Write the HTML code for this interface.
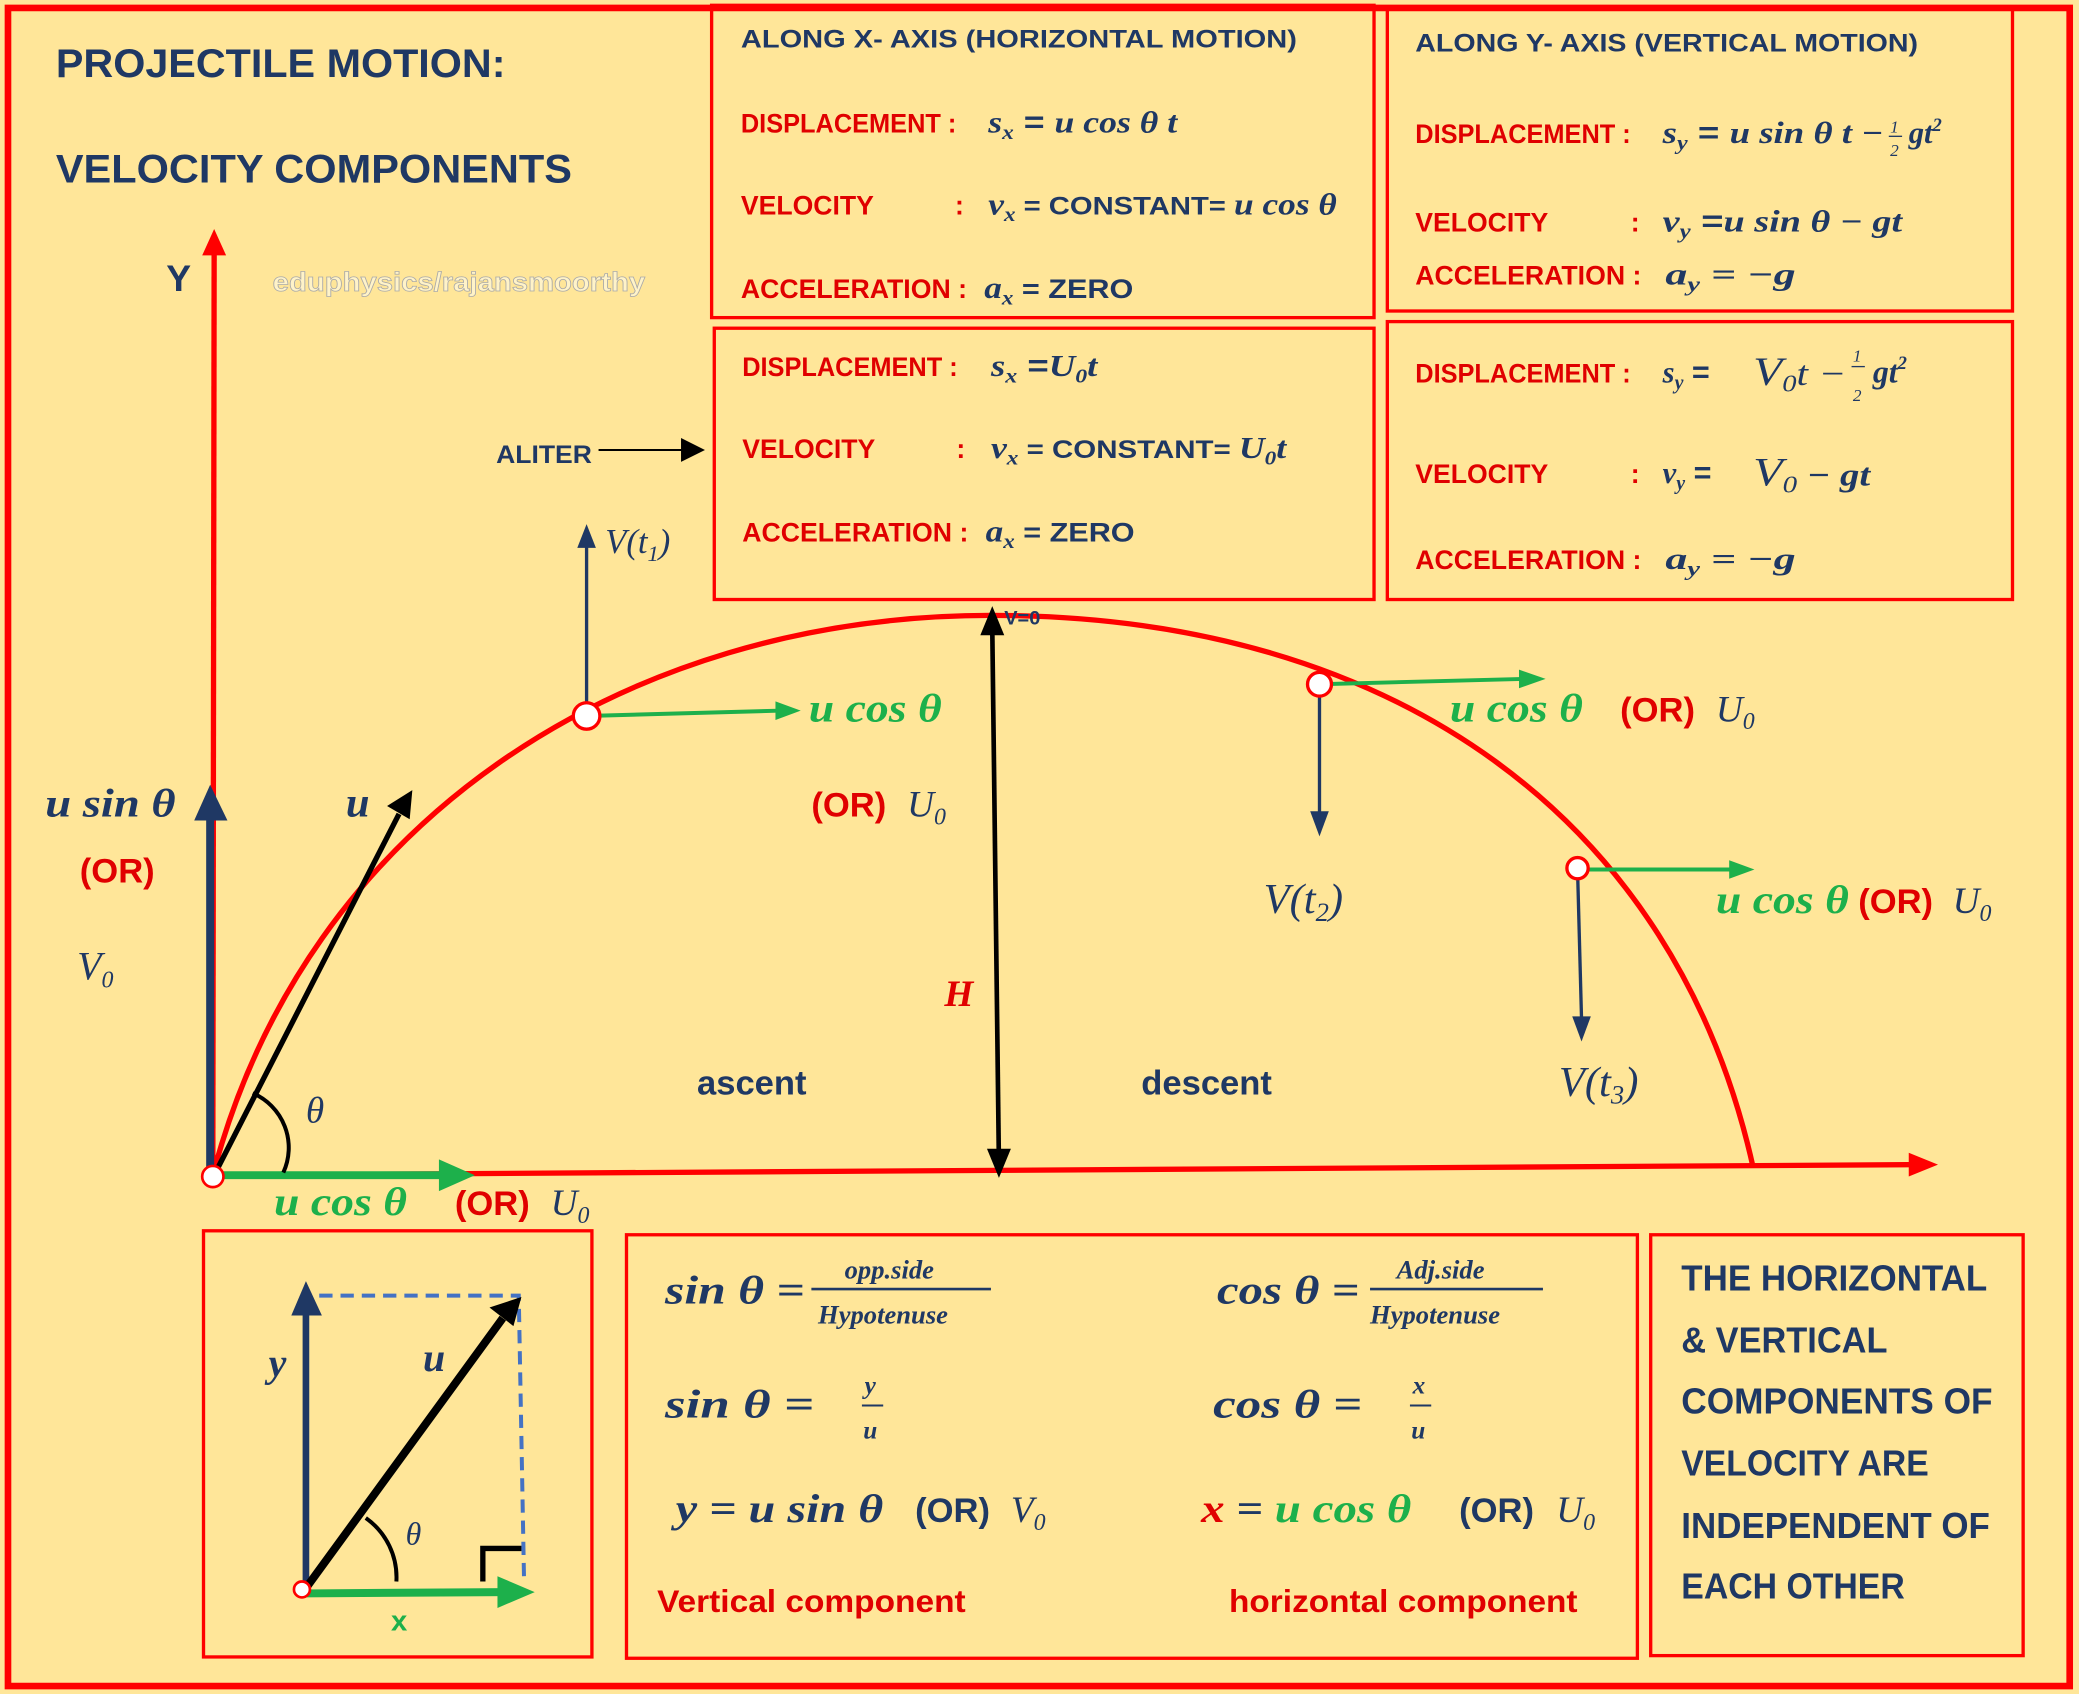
<!DOCTYPE html>
<html><head><meta charset="utf-8"><style>
html,body{margin:0;padding:0;background:#FFE699;}
svg{display:block;}
.t{font-family:"Liberation Sans",sans-serif;font-weight:bold;}
.n{fill:#1F3864;}
.r{fill:#E00000;}
.g{fill:#1DB04B;}
.m{font-family:"Liberation Serif",serif;font-style:italic;font-weight:bold;}
.mi{font-family:"Liberation Serif",serif;font-style:italic;}
</style></head><body>
<svg width="2079" height="1694" viewBox="0 0 1563 1280" preserveAspectRatio="none" xmlns="http://www.w3.org/2000/svg">
<rect x="0" y="0" width="1563" height="1280" fill="#FFE699"/>
<rect x="6" y="6" width="1550" height="1268" fill="none" stroke="#F00" stroke-width="5"/>
<g fill="none" stroke="#F00" stroke-width="2.5">
<rect x="535" y="4" width="498" height="236"/>
<rect x="1043" y="6" width="470" height="229"/>
<rect x="537" y="248" width="496" height="205"/>
<rect x="1043" y="243" width="470" height="210"/>
<rect x="153" y="930" width="292" height="322"/>
<rect x="471" y="933" width="760" height="320"/>
<rect x="1241" y="933" width="280" height="318"/>
</g>
<text x="42" y="58" class="t n" font-size="30" textLength="338" lengthAdjust="spacingAndGlyphs">PROJECTILE MOTION:</text>
<text x="42" y="138" class="t n" font-size="30" textLength="388" lengthAdjust="spacingAndGlyphs">VELOCITY COMPONENTS</text>
<text x="205" y="220" class="t" font-size="20" fill="#FFF3C8" stroke="#aaa" stroke-width="0.6" textLength="280" lengthAdjust="spacingAndGlyphs">eduphysics/rajansmoorthy</text>
<text x="125" y="220" class="t n" font-size="28">Y</text>

<!-- box 1 -->
<text x="557" y="36" class="t n" font-size="19" textLength="418" lengthAdjust="spacingAndGlyphs">ALONG X- AXIS  (HORIZONTAL MOTION)</text>
<text x="557" y="100" class="t r" font-size="20" textLength="162" lengthAdjust="spacingAndGlyphs">DISPLACEMENT :</text>
<text x="743" y="100" class="m n" font-size="23" textLength="142" lengthAdjust="spacingAndGlyphs">s<tspan font-size="15" dy="5">x</tspan><tspan dy="-5" font-style="normal" font-family="Liberation Sans"> = </tspan>u cos θ t</text>
<text x="557" y="162" class="t r" font-size="20" textLength="100" lengthAdjust="spacingAndGlyphs">VELOCITY</text>
<text x="718" y="162" class="t r" font-size="20">:</text>
<text x="743" y="162" class="m n" font-size="23" textLength="262" lengthAdjust="spacingAndGlyphs">v<tspan font-size="15" dy="5">x</tspan><tspan dy="-5" font-style="normal" font-family="Liberation Sans" font-size="19"> = CONSTANT= </tspan>u cos θ</text>
<text x="557" y="225" class="t r" font-size="20" textLength="170" lengthAdjust="spacingAndGlyphs">ACCELERATION :</text>
<text x="740" y="225" class="m n" font-size="23" textLength="112" lengthAdjust="spacingAndGlyphs">a<tspan font-size="15" dy="5">x</tspan><tspan dy="-5" font-style="normal" font-family="Liberation Sans" font-size="20"> = ZERO</tspan></text>

<!-- box 2 -->
<text x="1064" y="39" class="t n" font-size="19" textLength="378" lengthAdjust="spacingAndGlyphs">ALONG Y- AXIS  (VERTICAL MOTION)</text>
<text x="1064" y="108" class="t r" font-size="20" textLength="162" lengthAdjust="spacingAndGlyphs">DISPLACEMENT :</text>
<text x="1250" y="108" class="m n" font-size="23" textLength="166" lengthAdjust="spacingAndGlyphs">s<tspan font-size="15" dy="5">y</tspan><tspan dy="-5" font-style="normal" font-family="Liberation Sans"> = </tspan>u sin θ t −</text>
<text x="1421" y="100" class="mi n" font-size="13">1</text><line x1="1420" y1="103" x2="1430" y2="103" stroke="#1F3864" stroke-width="1"/><text x="1421" y="118" class="mi n" font-size="13">2</text>
<text x="1435" y="108" class="m n" font-size="23">gt<tspan font-size="14" dy="-9">2</tspan></text>
<text x="1064" y="175" class="t r" font-size="20" textLength="100" lengthAdjust="spacingAndGlyphs">VELOCITY</text>
<text x="1226" y="175" class="t r" font-size="20">:</text>
<text x="1250" y="175" class="m n" font-size="23" textLength="180" lengthAdjust="spacingAndGlyphs">v<tspan font-size="15" dy="5">y</tspan><tspan dy="-5" font-style="normal" font-family="Liberation Sans"> =</tspan>u sin θ − gt</text>
<text x="1064" y="215" class="t r" font-size="20" textLength="170" lengthAdjust="spacingAndGlyphs">ACCELERATION :</text>
<text x="1252" y="215" class="m n" font-size="23" textLength="98" lengthAdjust="spacingAndGlyphs">a<tspan font-size="15" dy="5">y</tspan><tspan dy="-5">  =  −g</tspan></text>

<!-- box 3 -->
<text x="558" y="284" class="t r" font-size="20" textLength="162" lengthAdjust="spacingAndGlyphs">DISPLACEMENT :</text>
<text x="745" y="284" class="m n" font-size="23" textLength="80" lengthAdjust="spacingAndGlyphs">s<tspan font-size="15" dy="5">x</tspan><tspan dy="-5" font-style="normal" font-family="Liberation Sans"> =</tspan>U<tspan font-size="15" dy="5">0</tspan><tspan dy="-5">t</tspan></text>
<text x="558" y="346" class="t r" font-size="20" textLength="100" lengthAdjust="spacingAndGlyphs">VELOCITY</text>
<text x="719" y="346" class="t r" font-size="20">:</text>
<text x="745" y="346" class="m n" font-size="23" textLength="222" lengthAdjust="spacingAndGlyphs">v<tspan font-size="15" dy="5">x</tspan><tspan dy="-5" font-style="normal" font-family="Liberation Sans" font-size="19"> = CONSTANT= </tspan>U<tspan font-size="15" dy="5">0</tspan><tspan dy="-5">t</tspan></text>
<text x="558" y="409" class="t r" font-size="20" textLength="170" lengthAdjust="spacingAndGlyphs">ACCELERATION :</text>
<text x="741" y="409" class="m n" font-size="23" textLength="112" lengthAdjust="spacingAndGlyphs">a<tspan font-size="15" dy="5">x</tspan><tspan dy="-5" font-style="normal" font-family="Liberation Sans" font-size="20"> = ZERO</tspan></text>

<!-- box 4 -->
<text x="1064" y="289" class="t r" font-size="20" textLength="162" lengthAdjust="spacingAndGlyphs">DISPLACEMENT :</text>
<text x="1250" y="289" class="m n" font-size="23">s<tspan font-size="15" dy="5">y</tspan><tspan dy="-5" font-style="normal" font-family="Liberation Sans"> =</tspan></text>
<text x="1318" y="291" class="mi n" font-size="30" textLength="70" lengthAdjust="spacingAndGlyphs">V<tspan font-size="18" dy="5">0</tspan><tspan dy="-5" font-size="26">t −</tspan></text>
<text x="1393" y="273" class="mi n" font-size="13">1</text><line x1="1392" y1="277" x2="1402" y2="277" stroke="#1F3864" stroke-width="1"/><text x="1393" y="303" class="mi n" font-size="13">2</text>
<text x="1408" y="289" class="m n" font-size="24">gt<tspan font-size="14" dy="-10">2</tspan></text>
<text x="1064" y="365" class="t r" font-size="20" textLength="100" lengthAdjust="spacingAndGlyphs">VELOCITY</text>
<text x="1226" y="365" class="t r" font-size="20">:</text>
<text x="1250" y="365" class="m n" font-size="23">v<tspan font-size="15" dy="5">y</tspan><tspan dy="-5" font-style="normal" font-family="Liberation Sans"> =</tspan></text>
<text x="1318" y="367" class="mi n" font-size="30" textLength="88" lengthAdjust="spacingAndGlyphs">V<tspan font-size="18" dy="5">0</tspan><tspan dy="-5" font-size="24" font-weight="bold"> − gt</tspan></text>
<text x="1064" y="430" class="t r" font-size="20" textLength="170" lengthAdjust="spacingAndGlyphs">ACCELERATION :</text>
<text x="1252" y="430" class="m n" font-size="23" textLength="98" lengthAdjust="spacingAndGlyphs">a<tspan font-size="15" dy="5">y</tspan><tspan dy="-5">  =  −g</tspan></text>

<!-- ALITER -->
<text x="373" y="350" class="t n" font-size="19" textLength="72" lengthAdjust="spacingAndGlyphs">ALITER</text>
<line x1="450" y1="340" x2="515" y2="340" stroke="#000" stroke-width="1.5"/>
<path d="M512,331 L530,340 L512,349z" fill="#000"/>

<!-- axes -->
<line x1="160" y1="888" x2="161" y2="190" stroke="#F00" stroke-width="4"/>
<path d="M152,193 L161,173 L170,193z" fill="#F00"/>
<line x1="160" y1="888" x2="1440" y2="880" stroke="#F00" stroke-width="4"/>
<path d="M1435,871 L1457,880 L1435,889z" fill="#F00"/>
<!-- trajectory -->
<path d="M160,888 C230,620 470,465 745,465 C1050,465 1260,620 1318,882" fill="none" stroke="#F00" stroke-width="4"/>

<!-- origin vectors -->
<line x1="158" y1="885" x2="158" y2="615" stroke="#1F3864" stroke-width="6"/>
<path d="M146,620 L158,593 L171,620z" fill="#1F3864"/>
<line x1="162" y1="886" x2="300" y2="615" stroke="#000" stroke-width="4"/>
<path d="M291,609 L310,597 L308,619z" fill="#000"/>
<line x1="162" y1="888" x2="335" y2="888" stroke="#1DB04B" stroke-width="6"/>
<path d="M330,876 L357,888 L330,900z" fill="#1DB04B"/>
<path d="M190,826 A45,45 0 0 1 213,886" fill="none" stroke="#000" stroke-width="3"/>
<circle cx="160" cy="889" r="8" fill="#fff" stroke="#F00" stroke-width="2"/>

<!-- point 1 -->
<line x1="441" y1="540" x2="441" y2="410" stroke="#1F3864" stroke-width="2.5"/>
<path d="M434,414 L441,396 L448,414z" fill="#1F3864"/>
<line x1="441" y1="541" x2="585" y2="537" stroke="#1DB04B" stroke-width="3"/>
<path d="M583,530 L602,537 L583,544z" fill="#1DB04B"/>
<circle cx="441" cy="541" r="10" fill="#fff" stroke="#F00" stroke-width="2.5"/>
<!-- H -->
<line x1="746" y1="475" x2="751" y2="880" stroke="#000" stroke-width="3.5"/>
<path d="M737,480 L746,458 L755,480z" fill="#000"/>
<path d="M742,868 L751,890 L760,868z" fill="#000"/>
<text x="755" y="472" class="t n" font-size="15">V=0</text>
<!-- point 2 -->
<line x1="992" y1="517" x2="1145" y2="513" stroke="#1DB04B" stroke-width="3"/>
<path d="M1142,506 L1162,513 L1142,520z" fill="#1DB04B"/>
<line x1="992" y1="517" x2="992" y2="615" stroke="#1F3864" stroke-width="2.5"/>
<path d="M985,613 L992,632 L999,613z" fill="#1F3864"/>
<circle cx="992" cy="517" r="9" fill="#fff" stroke="#F00" stroke-width="2.5"/>
<!-- point 3 -->
<line x1="1186" y1="657" x2="1302" y2="657" stroke="#1DB04B" stroke-width="3"/>
<path d="M1300,650 L1319,657 L1300,664z" fill="#1DB04B"/>
<line x1="1186" y1="657" x2="1189" y2="770" stroke="#1F3864" stroke-width="2.5"/>
<path d="M1182,768 L1189,787 L1196,768z" fill="#1F3864"/>
<circle cx="1186" cy="656" r="8" fill="#fff" stroke="#F00" stroke-width="2.5"/>

<!-- labels in diagram -->
<text x="34" y="617" class="m n" font-size="30" textLength="98" lengthAdjust="spacingAndGlyphs">u sin θ</text>
<text x="60" y="667" class="t r" font-size="26">(OR)</text>
<text x="58" y="740" class="mi n" font-size="30">V<tspan font-size="18" dy="6">0</tspan></text>
<text x="260" y="617" class="m n" font-size="32">u</text>
<text x="230" y="848" class="mi n" font-size="28">θ</text>
<text x="206" y="918" class="m g" font-size="30" textLength="100" lengthAdjust="spacingAndGlyphs">u cos θ</text>
<text x="342" y="918" class="t r" font-size="26">(OR)</text>
<text x="414" y="918" class="mi n" font-size="28">U<tspan font-size="18" dy="6">0</tspan></text>
<text x="455" y="418" class="mi n" font-size="26">V(t<tspan font-size="17" dy="6">1</tspan><tspan dy="-6">)</tspan></text>
<text x="608" y="545" class="m g" font-size="30" textLength="100" lengthAdjust="spacingAndGlyphs">u cos θ</text>
<text x="610" y="617" class="t r" font-size="26">(OR)</text>
<text x="682" y="617" class="mi n" font-size="28">U<tspan font-size="18" dy="6">0</tspan></text>
<text x="710" y="760" class="m" font-size="28" fill="#E00000">H</text>
<text x="524" y="827" class="t n" font-size="26">ascent</text>
<text x="858" y="827" class="t n" font-size="26">descent</text>
<text x="1090" y="545" class="m g" font-size="30" textLength="100" lengthAdjust="spacingAndGlyphs">u cos θ</text>
<text x="1218" y="545" class="t r" font-size="26">(OR)</text>
<text x="1290" y="545" class="mi n" font-size="28">U<tspan font-size="18" dy="6">0</tspan></text>
<text x="950" y="690" class="mi n" font-size="32">V(t<tspan font-size="20" dy="6">2</tspan><tspan dy="-6">)</tspan></text>
<text x="1290" y="690" class="m g" font-size="30" textLength="100" lengthAdjust="spacingAndGlyphs">u cos θ</text>
<text x="1397" y="690" class="t r" font-size="26">(OR)</text>
<text x="1468" y="690" class="mi n" font-size="28">U<tspan font-size="18" dy="6">0</tspan></text>
<text x="1172" y="828" class="mi n" font-size="32">V(t<tspan font-size="20" dy="6">3</tspan><tspan dy="-6">)</tspan></text>

<!-- inset -->
<line x1="230" y1="1200" x2="230" y2="990" stroke="#1F3864" stroke-width="5"/>
<path d="M219,994 L230,968 L242,994z" fill="#1F3864"/>
<path d="M240,979 L390,979 L394,1195" fill="none" stroke="#4472C4" stroke-width="3" stroke-dasharray="10,6"/>
<line x1="230" y1="1200" x2="378" y2="996" stroke="#000" stroke-width="6"/>
<path d="M368,988 L392,980 L386,1002z" fill="#000"/>
<line x1="228" y1="1204" x2="378" y2="1203" stroke="#1DB04B" stroke-width="6"/>
<path d="M374,1191 L402,1203 L374,1215z" fill="#1DB04B"/>
<path d="M363,1195 L363,1170 L392,1170" fill="none" stroke="#000" stroke-width="4"/>
<path d="M275,1147 A55,55 0 0 1 298,1195" fill="none" stroke="#000" stroke-width="3"/>
<circle cx="227" cy="1201" r="6" fill="#fff" stroke="#F00" stroke-width="2"/>
<text x="202" y="1040" class="m n" font-size="30">y</text>
<text x="318" y="1036" class="m n" font-size="30">u</text>
<text x="305" y="1167" class="mi n" font-size="24">θ</text>
<text x="294" y="1232" class="t g" font-size="22">x</text>

<!-- trig box -->
<text x="500" y="985" class="m n" font-size="30" textLength="105" lengthAdjust="spacingAndGlyphs">sin θ =</text>
<text x="635" y="966" class="m n" font-size="20">opp.side</text>
<line x1="610" y1="974" x2="745" y2="974" stroke="#1F3864" stroke-width="2"/>
<text x="615" y="1000" class="m n" font-size="20">Hypotenuse</text>
<text x="915" y="985" class="m n" font-size="30" textLength="107" lengthAdjust="spacingAndGlyphs">cos θ =</text>
<text x="1050" y="966" class="m n" font-size="20">Adj.side</text>
<line x1="1030" y1="974" x2="1160" y2="974" stroke="#1F3864" stroke-width="2"/>
<text x="1030" y="1000" class="m n" font-size="20">Hypotenuse</text>
<text x="500" y="1071" class="m n" font-size="30" textLength="112" lengthAdjust="spacingAndGlyphs">sin θ  =</text>
<text x="650" y="1053" class="m n" font-size="19">y</text><line x1="648" y1="1062" x2="664" y2="1062" stroke="#1F3864" stroke-width="1.5"/><text x="649" y="1087" class="m n" font-size="19">u</text>
<text x="912" y="1071" class="m n" font-size="30" textLength="112" lengthAdjust="spacingAndGlyphs">cos θ  =</text>
<text x="1062" y="1053" class="m n" font-size="19">x</text><line x1="1060" y1="1062" x2="1076" y2="1062" stroke="#1F3864" stroke-width="1.5"/><text x="1061" y="1087" class="m n" font-size="19">u</text>
<text x="508" y="1150" class="m n" font-size="30" textLength="156" lengthAdjust="spacingAndGlyphs">y = u sin θ</text>
<text x="688" y="1150" class="t n" font-size="26">(OR)</text>
<text x="760" y="1150" class="mi n" font-size="28">V<tspan font-size="18" dy="6">0</tspan></text>
<text x="903" y="1150" class="m" font-size="30" textLength="158" lengthAdjust="spacingAndGlyphs"><tspan fill="#E00000">x</tspan><tspan fill="#1F3864"> = </tspan><tspan fill="#1DB04B">u cos θ</tspan></text>
<text x="1097" y="1150" class="t n" font-size="26">(OR)</text>
<text x="1170" y="1150" class="mi n" font-size="28">U<tspan font-size="18" dy="6">0</tspan></text>
<text x="494" y="1218" class="t r" font-size="24" textLength="232" lengthAdjust="spacingAndGlyphs">Vertical component</text>
<text x="924" y="1218" class="t r" font-size="24" textLength="262" lengthAdjust="spacingAndGlyphs">horizontal component</text>

<!-- right box -->
<g class="t n" font-size="27">
<text x="1264" y="975" textLength="230" lengthAdjust="spacingAndGlyphs">THE HORIZONTAL</text>
<text x="1264" y="1022" textLength="155" lengthAdjust="spacingAndGlyphs">&amp; VERTICAL</text>
<text x="1264" y="1068" textLength="234" lengthAdjust="spacingAndGlyphs">COMPONENTS OF</text>
<text x="1264" y="1115" textLength="186" lengthAdjust="spacingAndGlyphs">VELOCITY ARE</text>
<text x="1264" y="1162" textLength="232" lengthAdjust="spacingAndGlyphs">INDEPENDENT OF</text>
<text x="1264" y="1208" textLength="168" lengthAdjust="spacingAndGlyphs">EACH OTHER</text>
</g>
</svg>
</body></html>
